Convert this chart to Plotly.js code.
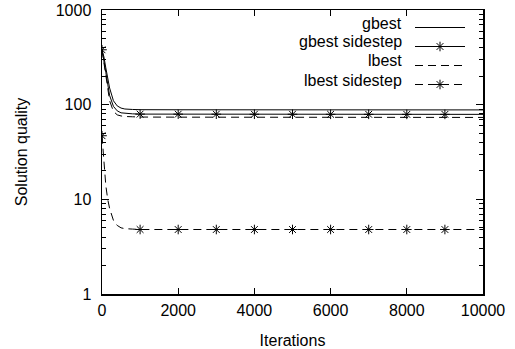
<!DOCTYPE html>
<html>
<head>
<meta charset="utf-8">
<script src="https://cdn.plot.ly/plotly-3.0.1.min.js"></script>
<style>
html,body{margin:0;padding:0;background:#fff;}
#chart{width:515px;height:349px;}
</style>
</head>
<body>
<div id="chart"></div>
<script>
// ---- data ----
const iterations = [0, 50, 100, 150, 200, 300, 400, 500, 600, 800, 1000, 2000, 3000, 4000, 5000, 6000, 7000, 8000, 9000, 10000];
const gbest         = [380, 320, 245, 190, 150, 110, 97, 92, 90, 89, 88.5, 88.3, 88.2, 88.1, 88, 88, 88, 88, 88, 88];
const gbestSidestep = [380, 300, 220, 165, 125, 96, 86, 82, 81, 80, 79.5, 79.4, 79.3, 79.2, 79.2, 79.1, 79.1, 79, 79, 79];
const lbest         = [380, 280, 200, 150, 110, 85, 78, 76, 75, 74.5, 74, 73.8, 73.7, 73.6, 73.5, 73.5, 73.4, 73.4, 73.3, 73.3];
const lbestSidestep = [47, 24, 14, 10, 8, 6, 5.3, 5, 4.9, 4.85, 4.8, 4.8, 4.8, 4.8, 4.8, 4.8, 4.8, 4.8, 4.8, 4.8];
const markerIterations = [0, 1000, 2000, 3000, 4000, 5000, 6000, 7000, 8000, 9000];
const seriesNames = ["gbest", "gbest sidestep", "lbest", "lbest sidestep"];
const xTickVals = [0, 2000, 4000, 6000, 8000, 10000];
const xTickText = ["0", "2000", "4000", "6000", "8000", "10000"];
const yTickVals = [1, 10, 100, 1000];
const yTickText = ["1", "10", "100", "1000"];

// ---- build traces ----
const FONT = "Liberation Sans, Arial, Helvetica, sans-serif";
const DASH = "8px,5px";

// marker-only points separated by gaps, so no line is drawn between them
function markerPoints(values) {
  const xs = [], ys = [];
  markerIterations.forEach(function (it) {
    const i = iterations.indexOf(it);
    xs.push(it, it);
    ys.push(values[i], null);
  });
  return {x: xs, y: ys};
}

const lineStyle = {color: "#000", width: 1};
const markerStyle = {symbol: "asterisk-open", size: 8, color: "#000", line: {color: "#000", width: 1}};

const gsM = markerPoints(gbestSidestep);
const lsM = markerPoints(lbestSidestep);

const traces = [
  {x: iterations, y: gbest, mode: "lines", name: " ", line: lineStyle, showlegend: true},
  {x: iterations, y: gbestSidestep, mode: "lines", name: " ", line: lineStyle, showlegend: false},
  {x: gsM.x, y: gsM.y, mode: "lines+markers", name: " ", line: lineStyle, marker: markerStyle, connectgaps: false, showlegend: true},
  {x: iterations, y: lbest, mode: "lines", name: " ", line: {color: "#000", width: 1, dash: DASH}, showlegend: true},
  {x: iterations, y: lbestSidestep, mode: "lines", name: " ", line: {color: "#000", width: 1, dash: DASH}, showlegend: false},
  {x: lsM.x, y: lsM.y, mode: "lines+markers", name: " ", line: {color: "#000", width: 1, dash: DASH}, marker: markerStyle, connectgaps: false, showlegend: true}
];

// legend labels (gnuplot style: text to the left of the sample)
const plotL = 102, plotR = 483, plotT = 10, plotB = 294;
const legendRowsPx = [23, 42, 61, 80];
const annotations = seriesNames.map(function (n, i) {
  return {
    text: n, xref: "paper", yref: "paper",
    x: (404 - plotL) / (plotR - plotL), y: (plotB - legendRowsPx[i]) / (plotB - plotT),
    xanchor: "right", yanchor: "middle", showarrow: false,
    font: {family: FONT, size: 16, color: "#000"}
  };
});

const layout = {
  width: 515, height: 349,
  margin: {l: plotL, r: 515 - plotR, t: plotT, b: 349 - plotB, pad: 0},
  paper_bgcolor: "#fff", plot_bgcolor: "#fff",
  font: {family: FONT, size: 16, color: "#000"},
  showlegend: true,
  legend: {
    x: (410 - plotL) / (plotR - plotL), y: (plotB - legendRowsPx[0] + 10) / (plotB - plotT),
    xanchor: "left", yanchor: "top",
    bgcolor: "rgba(0,0,0,0)", borderwidth: 0,
    font: {family: FONT, size: 11},
    itemwidth: 50, traceorder: "normal", tracegroupgap: 0
  },
  annotations: annotations,
  xaxis: {
    range: [0, 10000], tickmode: "array", tickvals: xTickVals, ticktext: xTickText,
    ticks: "inside", ticklen: 6, tickwidth: 1, tickcolor: "#000",
    ticklabelstandoff: 1,
    showline: true, linecolor: "#000", linewidth: 1.5, mirror: "allticks",
    showgrid: false, zeroline: false,
    tickfont: {family: FONT, size: 16},
    title: {text: "Iterations", font: {family: FONT, size: 16}, standoff: 17}
  },
  yaxis: {
    type: "log", range: [0, 3], tickmode: "array", tickvals: yTickVals, ticktext: yTickText,
    ticks: "inside", ticklen: 7, tickwidth: 1, tickcolor: "#000",
    ticklabelstandoff: 6,
    minor: {ticks: "inside", ticklen: 4, tickwidth: 1, tickcolor: "#000", dtick: "D1", showgrid: false},
    showline: true, linecolor: "#000", linewidth: 1.5, mirror: "allticks",
    showgrid: false, zeroline: false,
    tickfont: {family: FONT, size: 16},
    title: {text: "Solution quality", font: {family: FONT, size: 16}, standoff: 24}
  }
};

Plotly.newPlot("chart", traces, layout, {staticPlot: true, displayModeBar: false});
</script>
</body>
</html>
